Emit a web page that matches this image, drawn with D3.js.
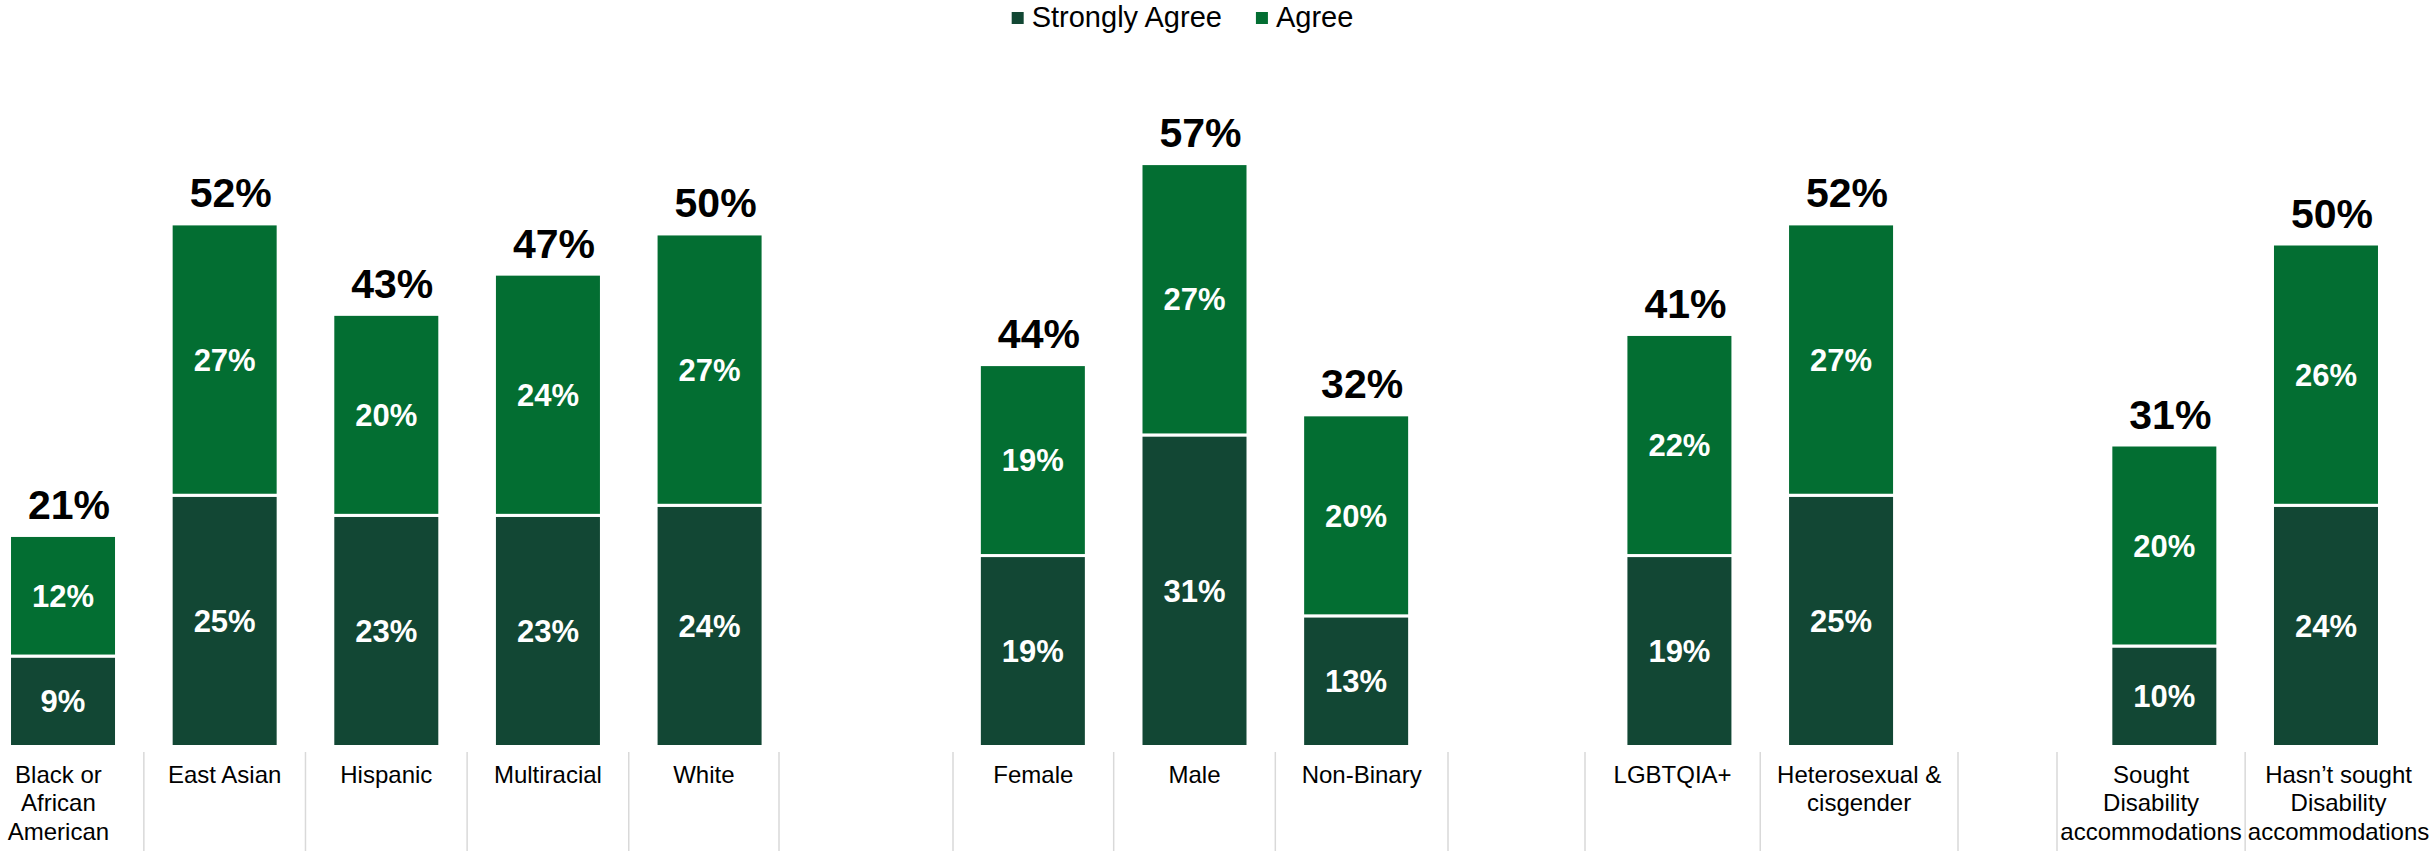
<!DOCTYPE html>
<html>
<head>
<meta charset="utf-8">
<script src="https://cdn.jsdelivr.net/npm/d3@7"></script>
<style>
  html, body { margin: 0; padding: 0; background: #ffffff; }
  svg { display: block; }
  text { font-family: "Liberation Sans", Arial, "Helvetica Neue", sans-serif; }
</style>
</head>
<body>
<svg id="chart" width="2432" height="851"></svg>
<script>
// ---------------- DATA ----------------
const categories = [
  "Black or\nAfrican\nAmerican", "East Asian", "Hispanic", "Multiracial", "White",
  "Female", "Male", "Non-Binary",
  "LGBTQIA+", "Heterosexual &\ncisgender",
  "Sought\nDisability\naccommodations", "Hasn’t sought\nDisability\naccommodations"
];
const groupOf = [0, 0, 0, 0, 0, 1, 1, 1, 2, 2, 3, 3];
const stronglyAgree = [9, 25, 23, 23, 24, 19, 31, 13, 19, 25, 10, 24];
const agree         = [12, 27, 20, 24, 27, 19, 27, 20, 22, 27, 20, 26];
const totals        = [21, 52, 43, 47, 50, 44, 57, 32, 41, 52, 31, 50];
const seriesNames = ["Strongly Agree", "Agree"];

// ---------------- LAYOUT / STYLE ----------------
const W = 2432, H = 851;
const colors = ["#124734", "#036e32"];
const baseY = 746.5;
const panelEdges = [[-27, 779], [953, 1448], [1585, 1958], [2057, 2432]];
const fontFamily = '"Liberation Sans", Arial, sans-serif';

const svg = d3.select("#chart");

// slots: categories plus one spacer slot between groups
const slots = [];
categories.forEach((c, i) => {
  if (i > 0 && groupOf[i] !== groupOf[i - 1]) slots.push("__gap" + groupOf[i]);
  slots.push("c" + i);
});

const x = d3.scaleBand()
  .domain(slots)
  .range([-17.8, 2406.8])
  .paddingInner(0.338)
  .paddingOuter(0.169);

const y = d3.scaleLinear().domain([0, 60]).range([baseY, baseY - 603]);

const table = categories.map((c, i) => ({
  key: "c" + i, idx: i, sa: stronglyAgree[i], a: agree[i], total: totals[i]
}));

const stack = d3.stack().keys(["sa", "a"]);
const series = stack(table);

// ---------------- BARS ----------------
const gBars = svg.append("g");
series.forEach((s, si) => {
  gBars.selectAll(null)
    .data(s)
    .join("rect")
    .attr("x", d => x(d.data.key))
    .attr("width", x.bandwidth())
    .attr("y", d => y(d[1]))
    .attr("height", d => y(d[0]) - y(d[1]))
    .attr("fill", colors[si])
    .attr("stroke", "#ffffff")
    .attr("stroke-width", 3);

  gBars.selectAll(null)
    .data(s)
    .join("text")
    .attr("x", d => x(d.data.key) + x.bandwidth() / 2)
    .attr("y", d => (y(d[0]) + y(d[1])) / 2)
    .attr("dy", "0.36em")
    .attr("text-anchor", "middle")
    .attr("fill", "#ffffff")
    .attr("font-weight", "bold")
    .attr("font-size", 31)
    .text(d => (d[1] - d[0]) + "%");
});

// ---------------- TOTALS ----------------
svg.append("g").selectAll("text")
  .data(table)
  .join("text")
  .attr("x", d => x(d.key) + x.bandwidth() / 2 + 6)
  .attr("y", d => y(d.sa + d.a) - 16.5)
  .attr("text-anchor", "middle")
  .attr("fill", "#000000")
  .attr("font-weight", "bold")
  .attr("font-size", 41)
  .text(d => d.total + "%");

// ---------------- CATEGORY CELLS (labels + separators) ----------------
const center = i => x("c" + i) + x.bandwidth() / 2;
const cells = table.map((d, i) => {
  const g = groupOf[i];
  const left = (i === 0 || groupOf[i - 1] !== g) ? panelEdges[g][0] : (center(i - 1) + center(i)) / 2;
  const right = (i === categories.length - 1 || groupOf[i + 1] !== g) ? panelEdges[g][1] : (center(i) + center(i + 1)) / 2;
  return { left, right, label: categories[i] };
});

const sepXs = [];
cells.forEach(c => {
  [c.left, c.right].forEach(v => {
    if (v > 0 && v < W && !sepXs.some(s => Math.abs(s - v) < 0.5)) sepXs.push(v);
  });
});

svg.append("g").selectAll("line")
  .data(sepXs)
  .join("line")
  .attr("x1", d => d).attr("x2", d => d)
  .attr("y1", 752).attr("y2", H)
  .attr("stroke", "#d9d9d9")
  .attr("stroke-width", 1.5);

const gLab = svg.append("g");
cells.forEach(c => {
  const t = gLab.append("text")
    .attr("text-anchor", "middle")
    .attr("font-size", 24)
    .attr("fill", "#000000");
  c.label.split("\n").forEach((line, li) => {
    t.append("tspan")
      .attr("x", (c.left + c.right) / 2)
      .attr("y", 783 + li * 28.3)
      .text(line);
  });
});

// ---------------- LEGEND ----------------
const legend = svg.append("g");
let cursor = 0;
seriesNames.forEach((name, i) => {
  const item = legend.append("g").attr("transform", `translate(${cursor},0)`);
  item.append("rect")
    .attr("x", 0).attr("y", 12)
    .attr("width", 12).attr("height", 12)
    .attr("fill", colors[i]);
  const t = item.append("text")
    .attr("x", 20).attr("y", 27)
    .attr("font-size", 29)
    .attr("fill", "#000000")
    .text(name);
  const w = t.node().getComputedTextLength();
  cursor += 20 + w + 34;
});
const legendW = cursor - 34;
legend.attr("transform", `translate(${1182.5 - legendW / 2},0)`);
</script>
</body>
</html>
